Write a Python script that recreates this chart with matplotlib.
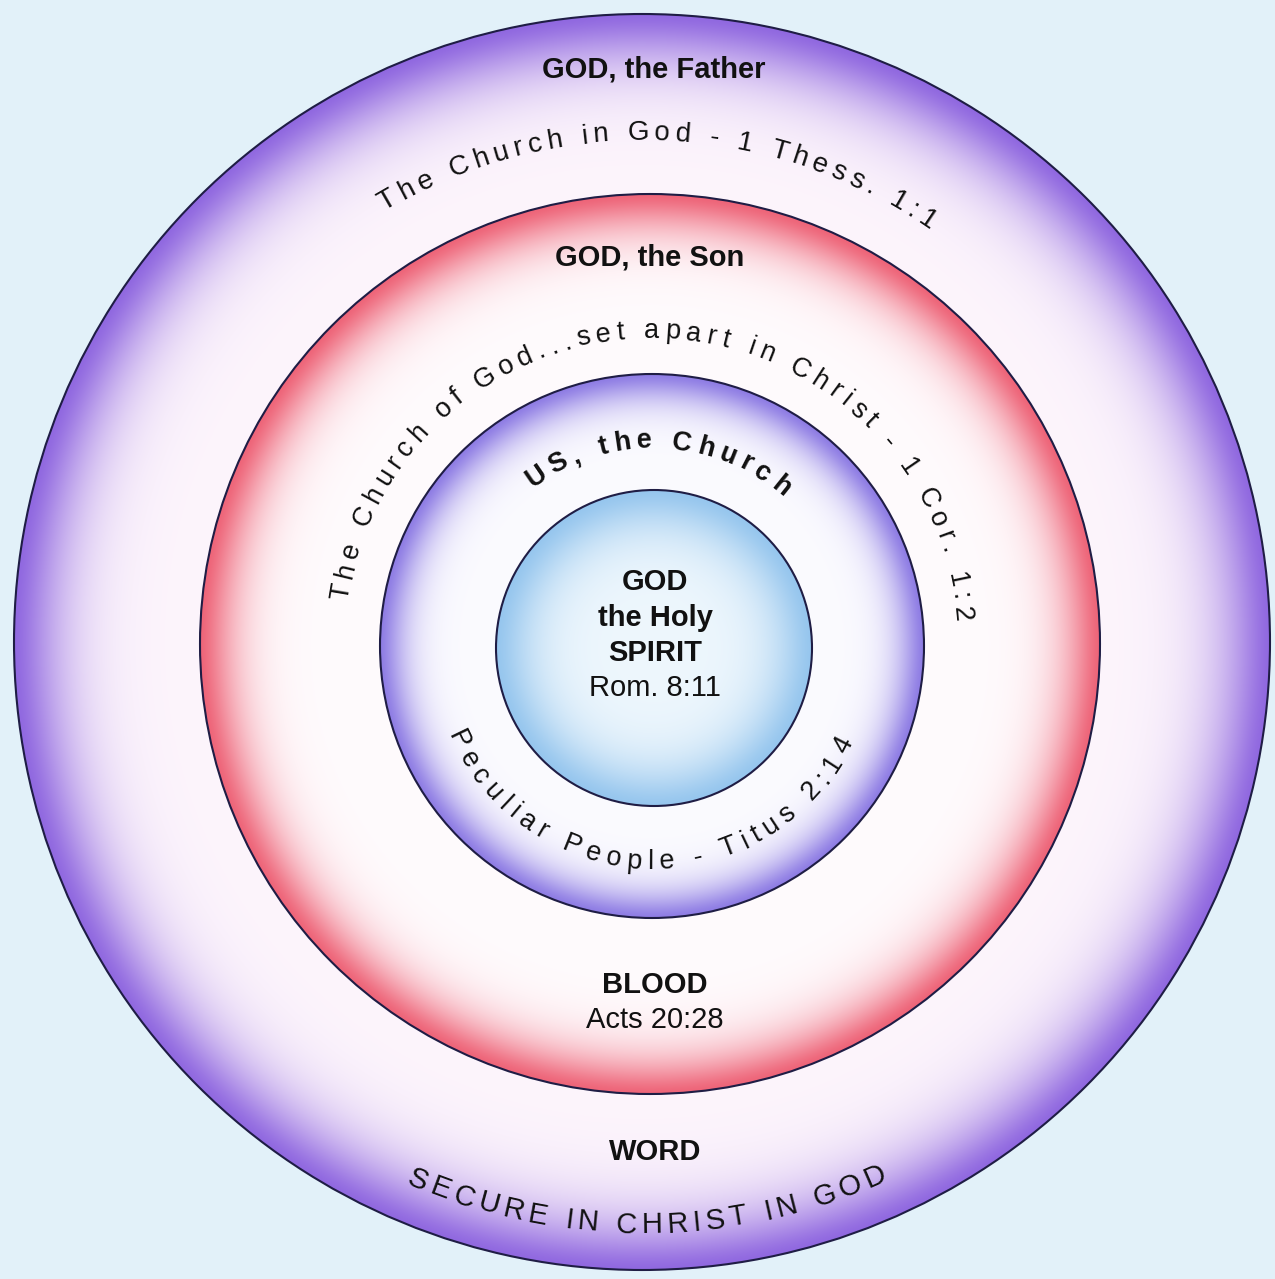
import matplotlib
matplotlib.use('Agg')
import matplotlib.pyplot as plt
import numpy as np
from matplotlib.patches import Circle
from matplotlib.font_manager import FontProperties

W, H = 1275, 1279
FONT = 'Liberation Sans'

# rings, outermost first: centre, radius, edge colour, inner colour, fade width
ring_cx = [642, 650, 652, 654]
ring_cy = [642, 644, 646, 648]
ring_r = [628, 450, 272, 158]
ring_edge = [(144, 104, 224), (238, 100, 120), (142, 124, 228), (150, 198, 238)]
ring_inner = [(253, 245, 252), (255, 251, 253), (251, 251, 255), (238, 247, 253)]
ring_fade = [52, 38, 28, 42]
bg_color = (226, 241, 249)

# straight labels
labels = ["GOD, the Father", "GOD, the Son", "GOD", "the Holy", "SPIRIT",
          "Rom. 8:11", "BLOOD", "Acts 20:28", "WORD"]
label_x = [654, 650, 655, 655, 655, 655, 655, 655, 655]
label_y = [70, 257, 582, 618, 653, 688, 985, 1020, 1152]
label_bold = [True, True, True, True, True, False, True, False, True]

# curved labels
arc_texts = ["The Church in God - 1 Thess. 1:1",
             "The Church of God...set apart in Christ - 1 Cor. 1:2",
             "US, the Church",
             "Peculiar People - Titus 2:14",
             "SECURE IN CHRIST IN GOD"]
arc_ring = [0, 1, 2, 2, 0]
arc_radius = [512, 316, 208, 213, 580]
arc_mid = [88, 88, 88, 269, 270.5]
arc_size = [20, 19.5, 19.5, 19.5, 21]
arc_bold = [False, False, True, False, False]
arc_track = [5.7, 6.2, 6.8, 5.7, 4.6]
arc_top = [True, True, True, False, False]

fig = plt.figure(figsize=(W / 100, H / 100), dpi=100)
ax = fig.add_axes([0, 0, 1, 1])
ax.set_xlim(0, W)
ax.set_ylim(H, 0)
ax.axis('off')

# shaded rings
yy, xx = np.mgrid[0:H, 0:W] + 0.5
img = np.ones((H, W, 3)) * np.array(bg_color) / 255.0
for cx, cy, r, ec, ic, fw in zip(ring_cx, ring_cy, ring_r, ring_edge, ring_inner, ring_fade):
    d = np.hypot(xx - cx, yy - cy)
    inside = d <= r
    f = 1 - np.exp(-((r - d) / fw) ** 1.5)
    f = np.clip(f, 0, 1)[..., None]
    col = np.array(ec) / 255.0 * (1 - f) + np.array(ic) / 255.0 * f
    img[inside] = col[inside]
ax.imshow(img, extent=(0, W, H, 0), origin='upper', aspect='auto', zorder=0)

for cx, cy, r in zip(ring_cx, ring_cy, ring_r):
    ax.add_patch(Circle((cx, cy), r, fill=False, edgecolor='#1f1d45', lw=1.5, zorder=2))

for s, x, y, b in zip(labels, label_x, label_y, label_bold):
    ax.text(x, y, s, ha='center', va='center', fontsize=21, family=FONT,
            fontweight='bold' if b else 'normal', color='#111111', zorder=3)

renderer = fig.canvas.get_renderer()


def char_widths(text, prop):
    base = renderer.get_text_width_height_descent('||', prop, ismath=False)[0]
    return [renderer.get_text_width_height_descent('|' + ch + '|', prop, ismath=False)[0] - base
            for ch in text]


def arc_text(text, cx, cy, r, mid, size, bold, track, top):
    prop = FontProperties(family=FONT, size=size, weight='bold' if bold else 'normal')
    w = char_widths(text, prop)
    total = sum(w) + track * (len(text) - 1)
    pos = 0
    for ch, cw in zip(text, w):
        s = pos + cw / 2
        pos += cw + track
        off = (total / 2 - s) / r
        th = np.radians(mid) + off if top else np.radians(mid) - off
        x = cx + r * np.cos(th)
        y = cy - r * np.sin(th)
        rot = np.degrees(th) - 90 if top else np.degrees(th) + 90
        ax.text(x, y, ch, fontproperties=prop, ha='center', va='center_baseline',
                rotation=rot, rotation_mode='anchor', color='#111111', zorder=3)


for t, ri, r, m, sz, b, tr, tp in zip(arc_texts, arc_ring, arc_radius, arc_mid,
                                       arc_size, arc_bold, arc_track, arc_top):
    arc_text(t, ring_cx[ri], ring_cy[ri], r, m, sz, b, tr, tp)

fig.savefig('out.png', dpi=100)
